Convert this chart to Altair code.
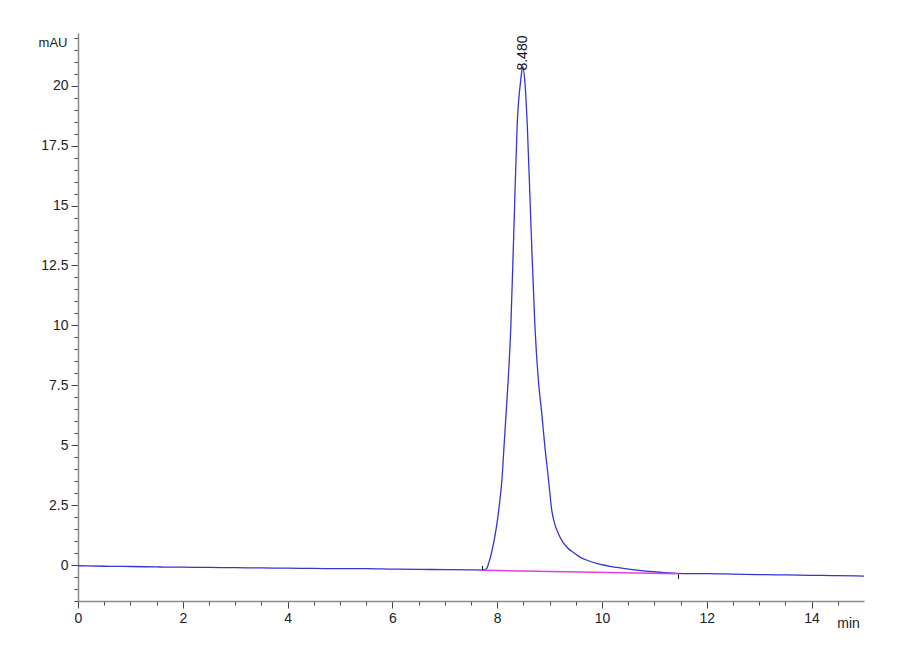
import altair as alt
import pandas as pd

# Chromatogram trace (time in min, signal in mAU)
time_min = [0.0, 0.5, 1.0, 1.5, 2.0, 2.5, 3.0, 3.5, 4.0, 4.5, 5.0, 5.5, 6.0, 6.5, 7.0, 7.5,
            7.72, 7.80, 7.84, 7.88, 7.92, 7.96, 8.00, 8.04, 8.09, 8.13, 8.17, 8.21, 8.26, 8.32,
            8.38, 8.45, 8.486,
            8.525, 8.575, 8.645, 8.72, 8.785, 8.85, 8.91, 8.98, 9.04, 9.10, 9.16, 9.24, 9.35,
            9.47, 9.58, 9.74, 9.90,
            10.28, 10.66, 11.04, 11.43, 11.7, 12.0, 12.5, 13.0, 13.5, 14.0, 14.5, 15.0]
signal_mau = [-0.03, -0.05, -0.06, -0.08, -0.09, -0.10, -0.11, -0.12, -0.13, -0.14, -0.15, -0.15,
              -0.17, -0.18, -0.19, -0.20,
              -0.21, -0.14, 0.10, 0.40, 0.80, 1.25, 1.80, 2.50, 3.55, 4.94, 6.33, 7.72, 9.95, 14.13,
              18.3, 20.25, 20.8,
              20.25, 18.3, 14.13, 9.95, 7.72, 6.33, 4.94, 3.55, 2.30, 1.70, 1.35, 1.00, 0.70,
              0.50, 0.33, 0.18, 0.07,
              -0.10, -0.21, -0.29, -0.35, -0.36, -0.36, -0.38, -0.40, -0.41, -0.43, -0.44, -0.46]

# Integration baseline
base_t = [7.72, 11.46]
base_v = [-0.22, -0.36]

# Peak start / end markers
mark_t = [7.72, 11.46]
mark_v1 = [-0.21, -0.39]
mark_v2 = [-0.04, -0.58]

# Peak label
peak_t = [8.486]
peak_v = [20.8]
peak_lbl = ["8.480"]

# Axis ticks
x_ticks = [i * 0.5 for i in range(0, 30)]
y_ticks = [i * 0.5 for i in range(-3, 45)]

trace = pd.DataFrame({"t": time_min, "v": signal_mau})
base = pd.DataFrame({"t": base_t, "v": base_v})
marks = pd.DataFrame({"t": mark_t, "v": mark_v1, "v2": mark_v2})
peak = pd.DataFrame({"t": peak_t, "v": peak_v, "label": peak_lbl})

FONT = "Liberation Sans"

xscale = alt.Scale(domain=[0, 15], nice=False, zero=False)
yscale = alt.Scale(domain=[-1.5, 22.2], nice=False, zero=False)

xaxis = alt.Axis(
    values=x_ticks,
    labelExpr="datum.value % 2 === 0 ? format(datum.value, 'd') : ''",
    grid=False,
    labelOverlap=False,
    labelFlush=False,
    tickSize={"condition": {"test": "datum.value % 2 === 0", "value": 7}, "value": 4},
    tickColor="#444444",
    domainColor="#8a8a8a",
    domainWidth=1.5,
    labelFont=FONT,
    labelFontSize=14,
    labelColor="#222222",
    labelPadding=3,
    title="min",
    titleFont=FONT,
    titleFontSize=14,
    titleFontWeight="normal",
    titleColor="#222222",
    titleX=770,
    titleY=22,
    titleAlign="center",
    titleBaseline="middle",
)

yaxis = alt.Axis(
    values=y_ticks,
    labelExpr="datum.value >= 0 && datum.value % 2.5 === 0 ? format(datum.value, '~g') : ''",
    grid=False,
    labelOverlap=False,
    labelFlush=False,
    tickSize={"condition": {"test": "datum.value % 2.5 === 0", "value": 7}, "value": 4},
    tickColor="#444444",
    domainColor="#8a8a8a",
    domainWidth=1.5,
    labelFont=FONT,
    labelFontSize=14,
    labelColor="#222222",
    labelPadding=3,
    title="mAU",
    titleFont=FONT,
    titleFontSize=13,
    titleFontWeight="normal",
    titleColor="#222222",
    titleAngle=0,
    titleX=-11,
    titleY=9,
    titleAlign="right",
    titleBaseline="middle",
)


def X():
    return alt.X("t:Q", scale=xscale, axis=xaxis)


def Y():
    return alt.Y("v:Q", scale=yscale, axis=yaxis)


line = alt.Chart(trace).mark_line(color="#3535d0", strokeWidth=1.3, interpolate="monotone").encode(
    x=X(), y=Y()
)

baseline = alt.Chart(base).mark_line(color="#e040e0", strokeWidth=1.5).encode(x=X(), y=Y())

ticks = alt.Chart(marks).mark_rule(color="#111111", strokeWidth=1).encode(
    x=X(), y=Y(), y2="v2:Q"
)

label = alt.Chart(peak).mark_text(
    angle=270, align="left", baseline="middle", font=FONT, fontSize=14, color="#111111", dx=-4
).encode(x=X(), y=Y(), text="label:N")

chart = (
    alt.layer(line, baseline, ticks, label)
    .properties(
        width=786,
        height=568,
        autosize=alt.AutoSizeParams(type="none"),
        padding={"left": 70, "top": 25, "right": 28, "bottom": 50},
    )
    .configure_view(stroke=None)
)

chart.save("out.html", embed_options={"renderer": "svg", "actions": False})
